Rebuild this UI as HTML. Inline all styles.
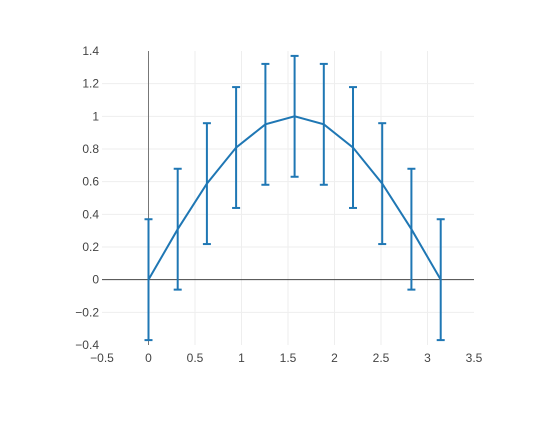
<!DOCTYPE html>
<html><head><meta charset="utf-8"><style>
body{margin:0;background:#fff}
svg text{font-family:"Liberation Sans",sans-serif;font-size:12px;fill:#444}
</style></head><body>
<svg id="chart" width="560" height="420" xmlns="http://www.w3.org/2000/svg">
<rect width="560" height="420" fill="#fff"/>
<g id="grid"></g><g id="axes"></g><g id="series"></g>
</svg>
<script>
const xValues=[0,0.314,0.628,0.942,1.257,1.571,1.885,2.199,2.513,2.827,3.142];
const yValues=[0,0.309,0.588,0.809,0.951,1,0.951,0.809,0.588,0.309,0];
const errValues=[0.37,0.37,0.37,0.37,0.37,0.37,0.37,0.37,0.37,0.37,0.37];
const xTicks=[-0.5,0,0.5,1,1.5,2,2.5,3,3.5];
const xTickLabels=["−0.5","0","0.5","1","1.5","2","2.5","3","3.5"];
const yTicks=[-0.4,-0.2,0,0.2,0.4,0.6,0.8,1,1.2,1.4];
const yTickLabels=["−0.4","−0.2","0","0.2","0.4","0.6","0.8","1","1.2","1.4"];
const X0=102,X1=474,Y0=345,Y1=51;
const sx=v=>X0+(v-(-0.5))/4*(X1-X0);
const sy=v=>Y0-(v-(-0.4))/1.8*(Y0-Y1);
const NS="http://www.w3.org/2000/svg";
function mk(tag,attrs,parent){const e=document.createElementNS(NS,tag);for(const k in attrs)e.setAttribute(k,attrs[k]);parent.appendChild(e);return e;}
const grid=document.getElementById('grid'),axes=document.getElementById('axes'),series=document.getElementById('series');
xTicks.forEach((t,i)=>{
  if(t!==0 && i>0 && i<xTicks.length-1){const l=mk('line',{x1:sx(t),x2:sx(t),y1:Y1,y2:Y0,stroke:'#eee','stroke-width':1},grid);
  
  }
  const tx=mk('text',{x:sx(t),y:Y0+17,'text-anchor':'middle'},axes);tx.textContent=xTickLabels[i];
  
  
});
yTicks.forEach((t,i)=>{
  if(t!==0 && i>0 && i<yTicks.length-1){const l=mk('line',{x1:X0,x2:X1,y1:sy(t),y2:sy(t),stroke:'#eee','stroke-width':1},grid);
  
  }
  const tx=mk('text',{x:X0-3,y:sy(t)+4,'text-anchor':'end'},axes);tx.textContent=yTickLabels[i];
  
  
});
const zx=mk('line',{x1:X0,x2:X1,y1:sy(0),y2:sy(0),stroke:'#444','stroke-width':1},axes);


const zy=mk('line',{x1:sx(0),x2:sx(0),y1:Y1,y2:Y0,stroke:'#777','stroke-width':1},axes);


xValues.forEach((x,i)=>{
  const cx=sx(x),t=sy(yValues[i]+errValues[i]),b=sy(yValues[i]-errValues[i]);
  const g=mk('g',{stroke:'#1f77b4','stroke-width':2},series);
  
  
  mk('line',{x1:cx,x2:cx,y1:t,y2:b},g);
  mk('line',{x1:cx-4,x2:cx+4,y1:t,y2:t},g);
  mk('line',{x1:cx-4,x2:cx+4,y1:b,y2:b},g);
});
const p=mk('polyline',{points:xValues.map((x,i)=>sx(x)+','+sy(yValues[i])).join(' '),fill:'none',stroke:'#1f77b4','stroke-width':2},series);


</script>
</body></html>
